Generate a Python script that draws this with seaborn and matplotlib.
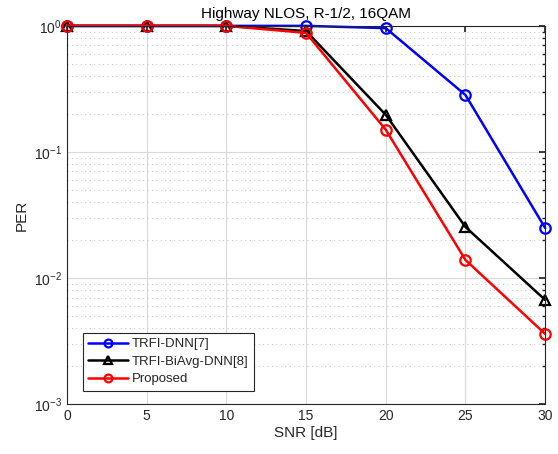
import matplotlib
matplotlib.use("Agg")
import matplotlib.pyplot as plt
import seaborn as sns
import numpy as np
import pandas as pd

snr = [0, 5, 10, 15, 20, 25, 30]
per_trfi_dnn = [1.0, 1.0, 1.0, 1.0, 0.96, 0.283, 0.0249]
per_biavg = [1.0, 1.0, 1.0, 0.91, 0.197, 0.0254, 0.0067]
per_proposed = [1.0, 1.0, 1.0, 0.88, 0.15, 0.0139, 0.0036]
labels = ["TRFI-DNN[7]", "TRFI-BiAvg-DNN[8]", "Proposed"]
colors = ["#0000ff", "#000000", "#ff0000"]
markers = ["o", "^", "o"]

sns.set_theme(style="white")
plt.rcParams["font.family"] = ["Liberation Sans", "DejaVu Sans"]
plt.rcParams["mathtext.fontset"] = "custom"
plt.rcParams["mathtext.rm"] = "Liberation Sans"
plt.rcParams["mathtext.default"] = "regular"

fig = plt.figure(figsize=(5.58, 4.54), dpi=100)
ax = fig.add_axes([0.12, 0.110, 0.857, 0.833])

df = pd.DataFrame({"SNR": snr * 3,
                   "PER": per_trfi_dnn + per_biavg + per_proposed,
                   "series": sum([[l] * len(snr) for l in labels], [])})

for lab, c, m in zip(labels, colors, markers):
    sub = df[df["series"] == lab]
    sns.lineplot(data=sub, x="SNR", y="PER", ax=ax, color=c, marker=m,
                 markersize=7.5, markerfacecolor="none", markeredgecolor=c,
                 markeredgewidth=1.6, linewidth=1.8, label=lab, clip_on=False)

ax.set_yscale("log")
ax.set_xlim(0, 30)
ax.set_ylim(1e-3, 1)
ax.set_xticks([0, 5, 10, 15, 20, 25, 30])
ax.grid(True, which="major", color="#d9d9d9", linestyle="-", linewidth=0.8)
ax.grid(True, which="minor", axis="y", color="#cccccc", linestyle=(0, (1, 3)), linewidth=0.8)
ax.tick_params(which="both", direction="in", top=True, right=True, colors="#262626",
               labelsize=10, length=4)
ax.tick_params(which="minor", length=2)
for s in ax.spines.values():
    s.set_color("#262626")
    s.set_linewidth(0.8)
ax.set_xlabel("SNR [dB]", fontsize=11, color="#262626", labelpad=2)
ax.set_ylabel("PER", fontsize=11, color="#262626")
ax.set_title("Highway NLOS, R-1/2, 16QAM", fontsize=11, color="#000000", pad=6)
leg = ax.legend(loc="lower left", fontsize=9.5, frameon=True, fancybox=False,
                edgecolor="#262626", framealpha=1, borderpad=0.4, labelspacing=0.4,
                handlelength=3.0, handletextpad=0.3, markerscale=0.75,
                bbox_to_anchor=(0.02, 0.018))
leg.get_frame().set_linewidth(0.8)
fig.savefig("out.png", dpi=100)
